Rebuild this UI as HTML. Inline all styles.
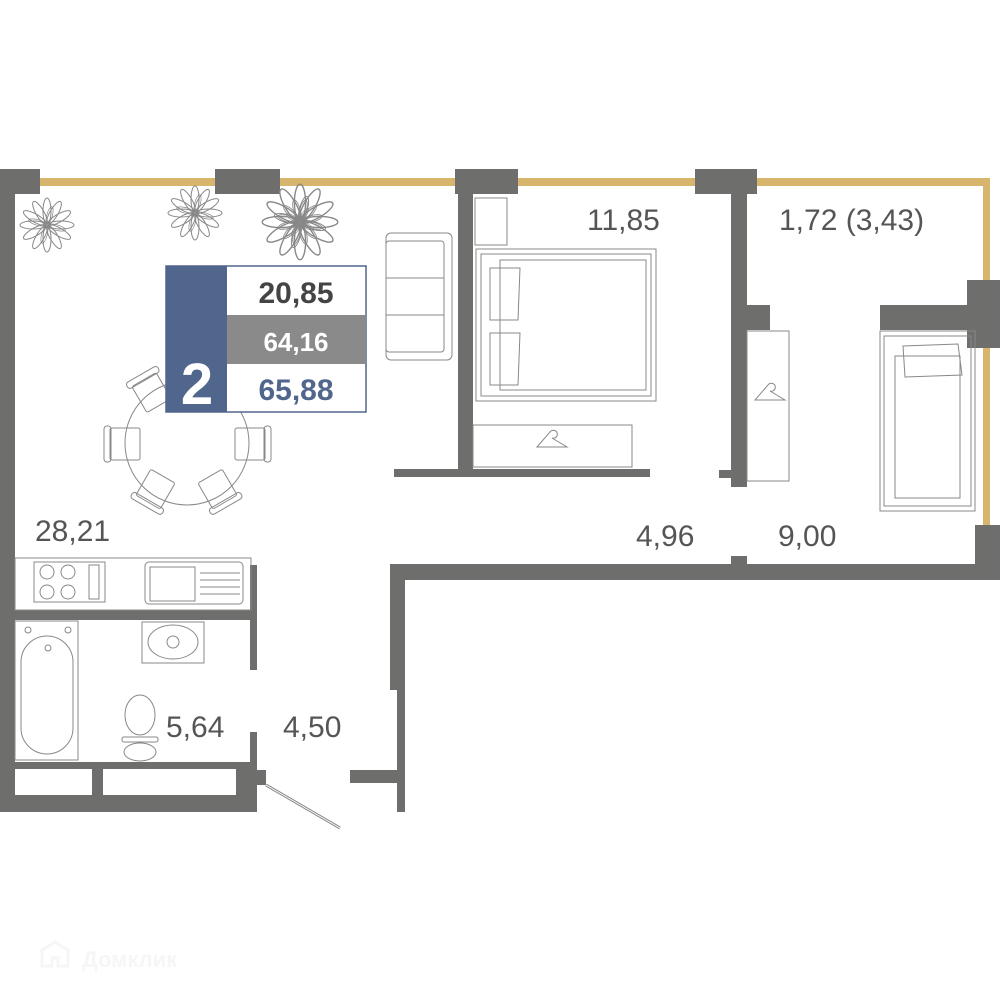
<!DOCTYPE html>
<html><head><meta charset="utf-8"><style>
html,body{margin:0;padding:0;background:#fff}
svg{display:block}
.t{font-family:"Liberation Sans",sans-serif;font-size:30px;fill:#555}
.f{fill:none;stroke:#888;stroke-width:1}
</style></head><body>
<svg width="1000" height="1000" viewBox="0 0 1000 1000" xmlns="http://www.w3.org/2000/svg">
<defs>
<g id="petals">
<ellipse cx="0" cy="-14" rx="4" ry="13" class="f"/>
</g>
</defs>
<g fill="#d8b56c">
<rect x="40" y="178" width="420" height="8"/>
<rect x="518" y="178" width="180" height="8"/>
<rect x="757" y="178" width="233" height="8"/>
<rect x="983" y="178" width="7" height="110"/>
<rect x="983" y="345" width="7" height="185"/>
</g>
<g fill="#6e6e6c">
<rect x="0" y="169" width="40" height="25"/>
<rect x="0" y="169" width="15" height="643"/>
<rect x="215" y="169" width="65" height="25"/>
<rect x="455" y="169" width="63" height="25"/>
<rect x="458" y="169" width="15" height="305"/>
<rect x="394" y="469" width="256" height="8"/>
<rect x="695" y="169" width="62" height="25"/>
<rect x="731" y="169" width="16" height="318"/>
<rect x="731" y="305" width="39" height="25"/>
<rect x="719" y="470" width="14" height="8"/>
<rect x="967" y="280" width="33" height="68"/>
<rect x="880" y="305" width="95" height="25"/>
<rect x="975" y="525" width="25" height="55"/>
<rect x="390" y="564" width="610" height="16"/>
<rect x="731" y="556" width="16" height="10"/>
<rect x="390" y="564" width="15" height="126"/>
<rect x="397" y="690" width="8" height="122"/>
<rect x="350" y="770" width="55" height="13"/>
<rect x="15" y="610" width="242" height="10"/>
<rect x="250" y="565" width="7" height="105"/>
<rect x="250" y="732" width="7" height="80"/>
<rect x="15" y="762" width="242" height="7"/>
<rect x="0" y="795" width="257" height="17"/>
<rect x="92" y="762" width="11" height="40"/>
<rect x="236" y="762" width="21" height="40"/>
<rect x="250" y="770" width="16" height="15"/>
</g>
<line x1="266" y1="785" x2="340" y2="828" stroke="#888" stroke-width="3"/>
<line x1="266" y1="785" x2="340" y2="828" stroke="#fff" stroke-width="1"/>
<g transform="translate(47,225)"><g id="pl">
<use href="#petals"/><use href="#petals" transform="rotate(30)"/><use href="#petals" transform="rotate(60)"/><use href="#petals" transform="rotate(90)"/><use href="#petals" transform="rotate(120)"/><use href="#petals" transform="rotate(150)"/><use href="#petals" transform="rotate(180)"/><use href="#petals" transform="rotate(210)"/><use href="#petals" transform="rotate(240)"/><use href="#petals" transform="rotate(270)"/><use href="#petals" transform="rotate(300)"/><use href="#petals" transform="rotate(330)"/>
<use href="#petals" transform="rotate(15) scale(.7)"/><use href="#petals" transform="rotate(105) scale(.7)"/><use href="#petals" transform="rotate(195) scale(.7)"/><use href="#petals" transform="rotate(285) scale(.7)"/>
</g></g>
<g transform="translate(195,213)"><use href="#pl"/></g>
<g transform="translate(300,222) scale(1.4)"><use href="#pl"/><use href="#pl" transform="rotate(15) scale(.6)"/></g>
<rect x="386" y="233" width="66" height="127" rx="5" class="f"/>
<rect x="386" y="241" width="58" height="111" rx="3" class="f"/>
<line x1="386" y1="278" x2="444" y2="278" class="f"/>
<line x1="386" y1="315" x2="444" y2="315" class="f"/>
<circle cx="187" cy="443" r="62" class="f"/>
<g class="f">
<rect x="110" y="428" width="30" height="32" rx="2"/><rect x="104" y="426" width="7" height="36" rx="3"/>
<rect x="235" y="428" width="30" height="32" rx="2"/><rect x="264" y="426" width="7" height="36" rx="3"/>
<g transform="translate(150,390) rotate(-30)"><rect x="-14" y="-12" width="28" height="30" rx="2"/><rect x="-18" y="-18" width="36" height="7" rx="3"/></g>
<g transform="translate(155,490) rotate(30)"><rect x="-14" y="-16" width="28" height="30" rx="2"/><rect x="-18" y="12" width="36" height="7" rx="3"/></g>
<g transform="translate(218,490) rotate(-30)"><rect x="-14" y="-16" width="28" height="30" rx="2"/><rect x="-18" y="12" width="36" height="7" rx="3"/></g>
</g>
<g class="f">
<rect x="475" y="198" width="32" height="47"/>
<rect x="476" y="249" width="180" height="152"/>
<rect x="481" y="254" width="170" height="142"/>
<rect x="500" y="260" width="146" height="130"/>
<path d="M490 268 L520 268 L518 320 L490 320 Z"/>
<path d="M490 333 L520 333 L518 385 L490 385 Z"/>
<rect x="473" y="425" width="159" height="42"/>
<path d="M550 432 a4 4 0 1 1 2 6 l15 9 h-30 z"/>
<rect x="747" y="331" width="42" height="150"/>
<path d="M768 385 a4 4 0 1 1 2 6 l15 9 h-30 z"/>
<rect x="880" y="331" width="95" height="180"/>
<rect x="884" y="336" width="87" height="170"/>
<rect x="895" y="356" width="65" height="142"/>
<path d="M903 346 L958 344 L962 375 L905 377 Z"/>
</g>
<g class="f">
<rect x="15" y="558" width="236" height="52"/>
<rect x="34" y="562" width="71" height="40"/>
<circle cx="47" cy="572" r="7"/><circle cx="68" cy="572" r="7"/><circle cx="47" cy="592" r="7"/><circle cx="68" cy="592" r="7"/>
<rect x="89" y="565" width="10" height="34"/>
<rect x="145" y="562" width="98" height="42" rx="4"/>
<rect x="150" y="567" width="45" height="34"/>
<line x1="200" y1="573" x2="240" y2="573"/><line x1="200" y1="580" x2="240" y2="580"/><line x1="200" y1="587" x2="240" y2="587"/><line x1="200" y1="594" x2="240" y2="594"/>
<rect x="142" y="622" width="62" height="41"/>
<ellipse cx="173" cy="642" rx="25" ry="17"/><circle cx="173" cy="642" r="6"/>
<rect x="15" y="621" width="63" height="139"/>
<rect x="21" y="636" width="52" height="118" rx="26"/>
<circle cx="28" cy="630" r="3"/><circle cx="68" cy="630" r="3"/><circle cx="48" cy="648" r="3"/>
<ellipse cx="140" cy="715" rx="15" ry="20"/>
<rect x="122" y="737" width="36" height="5" rx="2"/>
<ellipse cx="140" cy="752" rx="16" ry="9"/>
</g>
<rect x="166" y="266" width="200" height="146" fill="#fff" stroke="#50668c" stroke-width="1.5"/>
<rect x="166" y="266" width="61" height="146" fill="#50668c"/>
<rect x="227" y="315" width="139" height="49" fill="#8a8a8a"/>
<text x="197" y="404" text-anchor="middle" font-family="Liberation Sans,sans-serif" font-weight="bold" font-size="58" fill="#fff">2</text>
<text x="296" y="303" text-anchor="middle" font-family="Liberation Sans,sans-serif" font-weight="bold" font-size="30" fill="#444">20,85</text>
<text x="296" y="351" text-anchor="middle" font-family="Liberation Sans,sans-serif" font-weight="bold" font-size="26" fill="#fff">64,16</text>
<text x="296" y="400" text-anchor="middle" font-family="Liberation Sans,sans-serif" font-weight="bold" font-size="30" fill="#50668c">65,88</text>
<text class="t" x="35" y="541">28,21</text>
<text class="t" x="587" y="230">11,85</text>
<text class="t" x="779" y="230">1,72 (3,43)</text>
<text class="t" x="636" y="546">4,96</text>
<text class="t" x="778" y="546">9,00</text>
<text class="t" x="166" y="737">5,64</text>
<text class="t" x="283" y="737">4,50</text>
<text x="82" y="967" font-family="Liberation Sans,sans-serif" font-weight="bold" font-size="22" fill="#f6f6f6">Домклик</text>
<path d="M42 950 l13 -8 l13 8 v16 h-10 v-8 h-6 v8 h-10z" fill="none" stroke="#f6f6f6" stroke-width="3"/>
</svg>
</body></html>
